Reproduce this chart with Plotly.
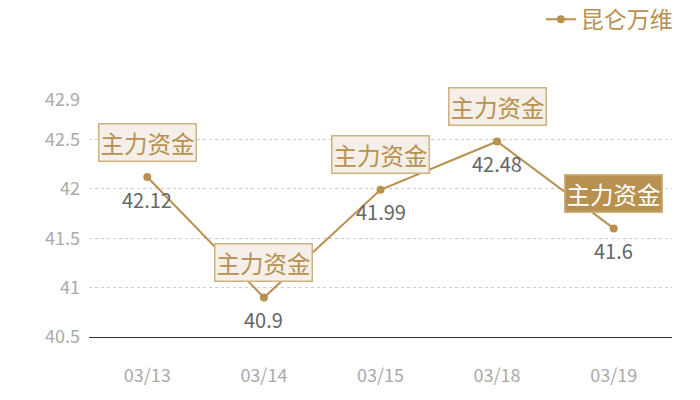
import plotly.graph_objects as go

# data
dates = ['03/13', '03/14', '03/15', '03/18', '03/19']
prices = [42.12, 40.9, 41.99, 42.48, 41.6]
tag_text = '主力资金'
y_ticks = [40.5, 41, 41.5, 42, 42.5, 42.9]
series_name = '昆仑万维'

gold = '#b8904f'
cjk = 'Noto Sans CJK SC'

fig = go.Figure()
fig.add_trace(go.Scatter(
    x=dates, y=prices, name=series_name,
    mode='lines+markers',
    line=dict(color=gold, width=2),
    marker=dict(color=gold, size=8),
))

annotations = []
for i, (d, p) in enumerate(zip(dates, prices)):
    last = i == len(dates) - 1
    # the box above each point
    annotations.append(dict(
        x=d, y=p, xref='x', yref='y', text=tag_text, showarrow=False,
        yshift=35,
        font=dict(family=cjk, size=23.5, color='#ffffff' if last else gold),
        bgcolor=gold if last else '#f4efe8',
        bordercolor='#cfb282', borderwidth=1.5, borderpad=1,
    ))
    # value under the point
    annotations.append(dict(
        x=d, y=p, xref='x', yref='y', text=str(p), showarrow=False,
        yshift=-22,
        font=dict(family=cjk, size=20, color='#666666'),
    ))

fig.update_layout(
    width=700, height=400,
    margin=dict(l=89, r=28, t=100, b=63, autoexpand=False),
    plot_bgcolor='white', paper_bgcolor='white',
    annotations=annotations,
    showlegend=True,
    legend=dict(
        orientation='h', x=1.01, xanchor='right', y=1.34, yanchor='middle',
        font=dict(family=cjk, size=23, color=gold),
        bgcolor='rgba(0,0,0,0)',
    ),
    xaxis=dict(
        type='category', range=[-0.5, 4.5],
        showline=True, linecolor='#333333', linewidth=1,
        showgrid=False, ticks='',
        tickfont=dict(family=cjk, size=18, color='#aaaaaa'),
        ticklabelstandoff=22,
    ),
    yaxis=dict(
        range=[40.5, 42.9], tickvals=y_ticks,
        ticktext=[str(v) for v in y_ticks],
        showgrid=True, gridcolor='#cccccc', gridwidth=1, griddash='3px,3px',
        zeroline=False, showline=False, ticks='',
        tickfont=dict(family=cjk, size=18, color='#aaaaaa'),
        ticklabelstandoff=8,
    ),
)

# page body has a default 8px margin, drop it
fig.write_html('out.html', config={'displayModeBar': False},
               post_script="document.body.style.margin='0';")
